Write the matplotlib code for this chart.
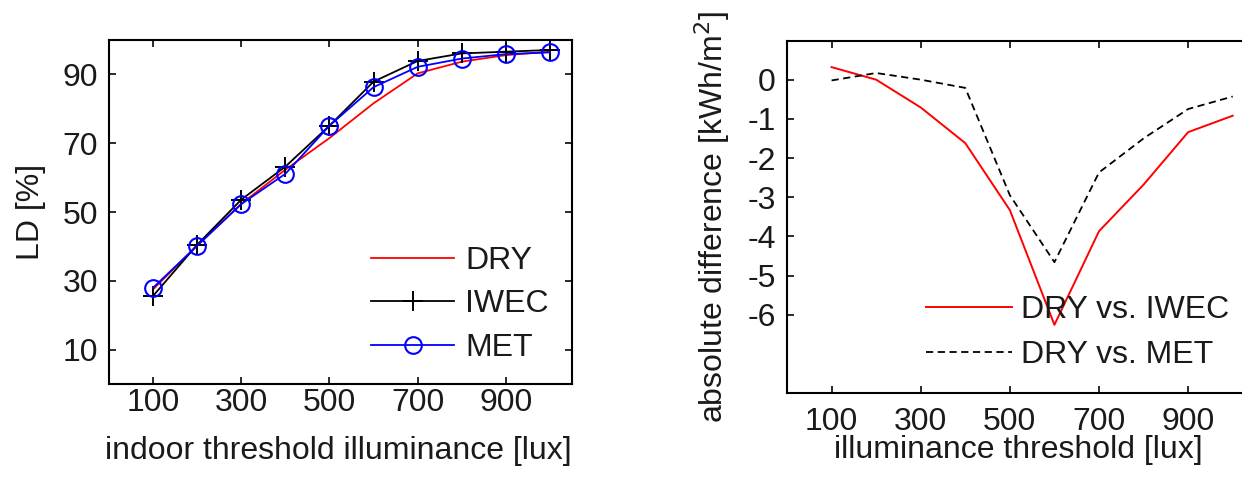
import matplotlib
matplotlib.use("Agg")
import matplotlib.pyplot as plt

plt.rcParams['font.family'] = ['Liberation Sans', 'DejaVu Sans']
plt.rcParams['axes.unicode_minus'] = False

thresholds = [100, 200, 300, 400, 500, 600, 700, 800, 900, 1000]

# left panel: LD [%]
ld_dry = [27.5, 40.3, 52.4, 62.3, 71.5, 81.6, 90.3, 93.7, 95.6, 96.6]
ld_iwec = [25.6, 40.5, 53.6, 63.2, 75.1, 87.9, 93.9, 96.1, 96.6, 97.1]
ld_met = [28.0, 40.2, 52.3, 61.1, 75.1, 86.3, 92.2, 94.6, 95.9, 96.4]

# right panel: absolute difference [kWh/m2]
diff_iwec = [0.32, 0.0, -0.71, -1.62, -3.33, -6.26, -3.87, -2.68, -1.34, -0.92]
diff_met = [-0.02, 0.17, 0.0, -0.21, -2.95, -4.66, -2.37, -1.50, -0.75, -0.43]

xticks = [100, 300, 500, 700, 900]
ld_ticks = [10, 30, 50, 70, 90]
diff_ticks = [-6, -5, -4, -3, -2, -1, 0]

FS = 23
W, H = 1242, 478

fig = plt.figure(figsize=(W / 100, H / 100), dpi=100)

def px_axes(x0, y0, x1, y1):
    return fig.add_axes([x0 / W, 1 - y1 / H, (x1 - x0) / W, (y1 - y0) / H])

def style(ax, xpad, ypad):
    for s in ax.spines.values():
        s.set_linewidth(1.5)
    ax.tick_params(direction='in', top=True, right=True, length=5, width=1.3,
                   labelsize=FS, colors='#1a1a1a')
    ax.tick_params(axis='x', pad=xpad)
    ax.tick_params(axis='y', pad=ypad)

# ---- left
ax1 = px_axes(109, 40, 572, 384)
ax1.plot(thresholds, ld_dry, color='#ff0000', lw=1.3, label='DRY')
ax1.plot(thresholds, ld_iwec, color='black', lw=1.3, marker='+', ms=14,
         mew=1.4, label='IWEC')
ax1.plot(thresholds, ld_met, color='#0000ff', lw=1.3, marker='o', ms=12,
         mfc='none', mew=1.5, label='MET')
ax1.set_xlim(0, 1050)
ax1.set_ylim(0, 100)
ax1.set_xticks(xticks)
ax1.set_yticks(ld_ticks)
style(ax1, 3, 8)
ax1.set_xlabel('indoor threshold illuminance [lux]', fontsize=FS, color='#1a1a1a')
ax1.set_ylabel('LD [%]', fontsize=FS, color='#1a1a1a')
ax1.xaxis.set_label_coords(0.495, -0.151)
ax1.yaxis.set_label_coords(-0.136, 0.5)
ax1.legend(loc='upper left', bbox_to_anchor=(371 / W, 1 - 246 / H),
           bbox_transform=fig.transFigure, frameon=False, fontsize=FS,
           handlelength=2.6, handletextpad=0.35, labelspacing=0.42,
           borderpad=0, borderaxespad=0, labelcolor='#1a1a1a')

# ---- right
ax2 = px_axes(787, 40.5, 1255, 393)
ax2.plot(thresholds, diff_iwec, color='#ff0000', lw=1.4, label='DRY vs. IWEC')
ax2.plot(thresholds, diff_met, color='black', lw=1.3, linestyle=(0, (4, 2.5)),
         label='DRY vs. MET')
ax2.set_xlim(0, 1050)
ax2.set_ylim(-8, 1)
ax2.set_xticks(xticks)
ax2.set_yticks(diff_ticks)
style(ax2, 10, 8)
ax2.set_xlabel('illuminance threshold [lux]', fontsize=FS, color='#1a1a1a')
ax2.set_ylabel('absolute difference [kWh/m$^2$]', fontsize=FS, color='#1a1a1a')
ax2.xaxis.set_label_coords(0.495, -0.12)
ax2.yaxis.set_label_coords(-0.1175, 0.5)
ax2.legend(loc='upper left', bbox_to_anchor=(926 / W, 1 - 295 / H),
           bbox_transform=fig.transFigure, frameon=False, fontsize=FS,
           handlelength=2.7, handletextpad=0.27, labelspacing=0.48,
           borderpad=0, borderaxespad=0, labelcolor='#1a1a1a')

fig.savefig('out.png', dpi=100)
